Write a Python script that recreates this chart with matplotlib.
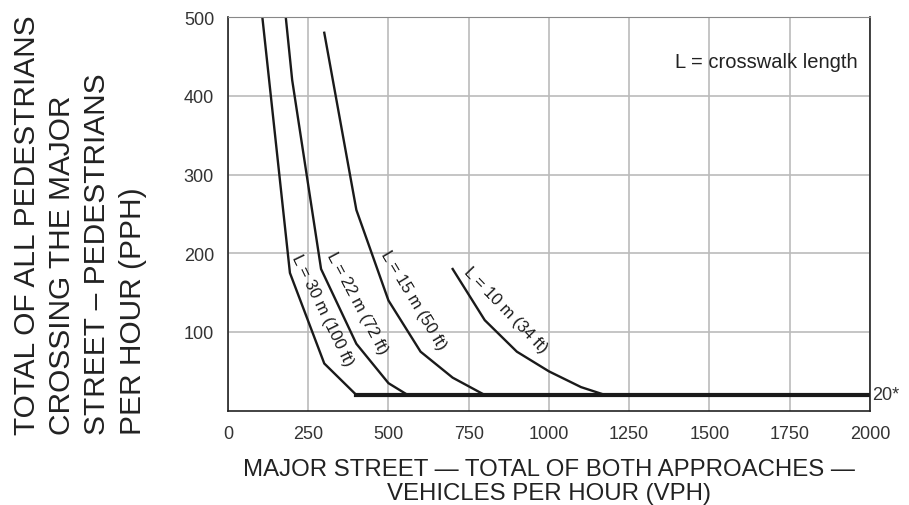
import matplotlib
matplotlib.use("Agg")
import matplotlib.pyplot as plt

plt.rcParams['font.family'] = ['Liberation Sans', 'DejaVu Sans']

# curves (VPH, PPH)
x_30m = [107, 193, 300, 400]
y_30m = [500, 175, 60, 20]
x_22m = [180, 200, 290, 400, 500, 560]
y_22m = [500, 420, 180, 85, 35, 20]
x_15m = [300, 400, 500, 600, 700, 800]
y_15m = [480, 255, 140, 75, 42, 20]
x_10m = [700, 800, 900, 1000, 1100, 1175]
y_10m = [180, 115, 75, 50, 30, 20]
floor_x = [400, 2000]
floor_y = [20, 20]

curve_labels = ['L = 30 m (100 ft)', 'L = 22 m (72 ft)', 'L = 15 m (50 ft)', 'L = 10 m (34 ft)']
label_x = [294, 403, 577, 865]
label_y = [128, 137, 141, 129]
label_rot = [-64, -62, -59, -46]

x_ticks = [0, 250, 500, 750, 1000, 1250, 1500, 1750, 2000]
y_ticks = [100, 200, 300, 400, 500]

fig = plt.figure(figsize=(9.09, 5.06), dpi=100)
ax = fig.add_axes([0.2508, 0.1863, 0.7062, 0.7781])

for xs, ys in [(x_30m, y_30m), (x_22m, y_22m), (x_15m, y_15m), (x_10m, y_10m)]:
    ax.plot(xs, ys, color='#1a1a1a', lw=1.7, solid_joinstyle='miter')
ax.plot(floor_x, floor_y, color='#1a1a1a', lw=3)

for txt, lx, ly, rot in zip(curve_labels, label_x, label_y, label_rot):
    ax.text(lx, ly, txt, rotation=rot, ha='center', va='center', fontsize=12,
            color='#1a1a1a', rotation_mode='anchor')

ax.set_xlim(0, 2000)
ax.set_ylim(0, 500)
ax.set_xticks(x_ticks)
ax.set_yticks(y_ticks)
ax.tick_params(length=0, labelsize=13, colors='#333333', pad=10)
ax.grid(True, color='#bbbbbb', lw=1.2)
ax.set_axisbelow(True)
for s in ['left', 'bottom', 'right']:
    ax.spines[s].set_color('#222222')
    ax.spines[s].set_linewidth(1.2)
ax.spines['top'].set_color('#888888')

ax.text(0.981, 0.888, 'L = crosswalk length', transform=ax.transAxes, ha='right',
        va='center', fontsize=14.5, color='#222222')
ax.text(2008, 20, '20*', ha='left', va='center', fontsize=13, color='#333333', clip_on=False)

ax.set_xlabel('MAJOR STREET — TOTAL OF BOTH APPROACHES —\nVEHICLES PER HOUR (VPH)',
              fontsize=17.3, color='#222222', labelpad=12, linespacing=1.12)

fig.text(0.014, 0.14, 'TOTAL OF ALL PEDESTRIANS\nCROSSING THE MAJOR\nSTREET – PEDESTRIANS\nPER HOUR (PPH)',
         rotation=90, ha='left', va='bottom', multialignment='left', fontsize=21.5,
         color='#222222', linespacing=1.33)

fig.savefig('out.png', dpi=100)
